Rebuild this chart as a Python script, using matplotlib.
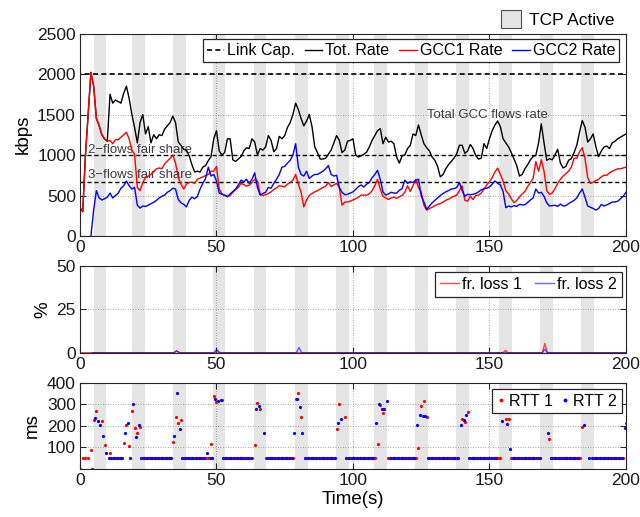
import numpy as np
import matplotlib
matplotlib.use('Agg')
import matplotlib.pyplot as plt
from matplotlib.patches import Patch

plt.rcParams['font.family'] = ['Liberation Sans', 'DejaVu Sans']
nan = np.nan

# ---------------- data ----------------
time_s = np.arange(0, 201)          # 1-s samples for rates / RTT 1
time_rtt2 = np.arange(0, 200) + 0.5  # RTT 2 sample times

tcp_start = [5.0, 19.0, 34.0, 48.6, 63.7, 78.8, 93.9, 107.7, 122.8, 137.9, 153.4, 168.6, 183.7]
tcp_end = [9.7, 23.7, 38.7, 53.2, 68.3, 83.4, 98.5, 112.4, 127.4, 142.4, 158.1, 173.3, 188.4]

link_t = [0, 0, 200]
link_cap = [0, 2000, 2000]
fair_2flows = 1000
fair_3flows = 667

gcc1_rate = [350, 300, 1000, 1500, 2020, 1850, 1450, 1365, 1250, 1200,
             1170, 1180, 1140, 1190, 1190, 1220, 1250, 1280, 1200, 1060,
             1010, 600, 560, 660, 720, 740, 760, 800, 830, 840,
             830, 890, 925, 960, 1000, 900, 720, 640, 580, 640,
             660, 665, 650, 700, 715, 730, 745, 760, 800, 800,
             860, 580, 520, 500, 485, 500, 540, 575, 600, 650,
             635, 615, 630, 660, 700, 680, 520, 500, 510, 525,
             545, 575, 595, 620, 615, 605, 640, 660, 690, 760,
             640, 540, 360, 445, 500, 525, 545, 560, 580, 600,
             615, 660, 610, 630, 650, 600, 380, 420, 420, 430,
             445, 460, 480, 505, 505, 505, 520, 560, 620, 700,
             580, 490, 470, 450, 470, 480, 465, 485, 500, 540,
             620, 550, 620, 700, 600, 540, 380, 320, 340, 355,
             375, 390, 400, 420, 440, 455, 475, 490, 505, 560,
             620, 440, 430, 490, 450, 500, 505, 530, 580, 630,
             670, 720, 790, 840, 760, 680, 560, 520, 460, 410,
             440, 480, 520, 550, 610, 660, 710, 920, 800, 940,
             800, 560, 515, 530, 585, 650, 700, 740, 770, 800,
             850, 960, 960, 1040, 1090, 960, 720, 650, 665, 685,
             700, 730, 750, 750, 780, 800, 815, 830, 830, 840,
             850]

gcc2_rate = [nan, nan, nan, nan, 0, 320, 560, 470, 445, 460,
             480, 530, 470, 500, 530, 590, 620, 680, 620, 580,
             600, 380, 345, 370, 365, 380, 400, 415, 440, 470,
             490, 505, 540, 560, 590, 580, 450, 410, 390, 360,
             440, 480, 460, 490, 580, 650, 710, 850, 740, 760,
             680, 530, 515, 505, 485, 520, 550, 580, 630, 690,
             670, 700, 650, 700, 780, 600, 505, 525, 540, 600,
             590, 650, 700, 760, 850, 860, 900, 935, 1000, 1140,
             850, 760, 740, 800, 710, 740, 760, 760, 780, 800,
             830, 870, 760, 740, 750, 600, 540, 510, 515, 530,
             545, 575, 610, 630, 605, 640, 660, 720, 760, 810,
             700, 545, 505, 520, 540, 530, 530, 565, 585, 690,
             650, 670, 660, 690, 700, 500, 420, 330, 370, 410,
             440, 470, 500, 525, 545, 560, 580, 585, 600, 660,
             560, 490, 515, 510, 515, 525, 545, 570, 585, 590,
             605, 640, 680, 650, 630, 550, 350, 370, 360, 375,
             365, 390, 385, 385, 415, 445, 470, 580, 530, 540,
             490, 410, 370, 375, 380, 365, 395, 370, 375, 400,
             420, 440, 470, 530, 580, 480, 370, 355, 340, 320,
             340, 390, 370, 385, 400, 420, 420, 430, 460, 490,
             540]

total_rate = [350, 300, 1000, 1500, 2020, 1850, 1450, 1365, 1250, 1200,
              1170, 1750, 1640, 1680, 1660, 1640, 1760, 1850, 1700, 1500,
              1340, 1150, 1400, 1500, 1260, 1350, 1150, 1250, 1200, 1250,
              1240, 1320, 1360, 1400, 1480, 1400, 1160, 1120, 1070, 1060,
              990, 880, 790, 800, 790, 850, 870, 930, 980, 1200,
              1300, 1050, 1000, 1030, 1200, 1200, 940, 920, 950, 980,
              1050, 1090, 1080, 1200, 1160, 1000, 1080, 1060, 1100, 1240,
              1180, 1040, 1080, 1230, 1200, 1240, 1340, 1400, 1500, 1640,
              1560, 1450, 1360, 1420, 1500, 1350, 1100, 1030, 950, 950,
              960, 1010, 1060, 1150, 1240, 1180, 1030, 1060, 1170, 1180,
              1200, 1000, 975, 990, 1010, 1035, 1100, 1180, 1240, 1300,
              1325, 1140, 1220, 1160, 1170, 1140, 975, 900, 990, 1000,
              1080, 1120, 1260, 1240, 1370, 1250, 1140, 1090, 1050, 975,
              935, 860, 730, 760, 830, 880, 920, 960, 1015, 1120,
              1120, 1020, 1050, 1130, 1080, 990, 950, 960, 1140, 1080,
              1200, 1300, 1370, 1420, 1350, 1200, 1150, 1100, 1030, 950,
              870, 740, 760, 830, 880, 940, 980, 995, 1150, 1385,
              1150, 935, 955, 940, 1000, 1070, 900, 840, 860, 935,
              955, 1030, 1120, 1280, 1425, 1345, 1160, 1200, 1260, 1100,
              980, 1050, 1100, 1110, 1080, 1150, 1170, 1200, 1220, 1240,
              1260]

loss1_t = [0, 34.4, 35.4, 36.4, 49.2, 50.2, 51.2, 155.0, 155.9, 156.8, 169.4, 170.3, 171.2, 200]
loss1 = [0, 0, 1.1, 0, 0, 0.6, 0, 0, 1.4, 0, 0, 5.3, 0, 0]
loss2_t = [4.5, 34.4, 35.4, 36.4, 49.1, 50.1, 51.1, 79.2, 80.2, 81.2, 169.4, 170.3, 171.2, 200]
loss2 = [0, 0, 0.9, 0, 0, 2.0, 0, 0, 3.0, 0, 0, 2.0, 0, 0]

rtt1 = [0, 52, 52, 52, 90, 229, 270, nan, 224, 110,
        nan, 72, 52, 52, 52, 52, 119, 204, 108, 270,
        190, 166, 194, 52, 52, 52, 52, 52, 52, 52,
        52, 52, 52, 52, 123, 242, 215, 227, 52, 52,
        52, 52, 52, 52, 52, 52, 52, 52, 117, 337,
        311, nan, 322, 52, 52, 52, 52, 52, 52, 52,
        52, 52, 52, 52, 111, 308, 279, nan, 52, 52,
        52, 52, 52, 52, 52, 52, 52, 52, 52, 326,
        351, 239, nan, 52, 52, 52, 52, 52, 52, 52,
        52, 52, 52, 52, 184, 303, nan, 242, 52, 52,
        52, 52, 52, 52, 52, 52, 52, 52, 52, 117,
        297, 258, nan, 52, 52, 52, 52, 52, 52, 52,
        52, 52, 52, 52, 96, 291, 314, 242, 52, 52,
        52, 52, 52, 52, 52, 52, 52, 52, 52, nan,
        232, 220, 262, 52, 52, 52, 52, 52, 52, 52,
        52, 52, 52, 52, 52, nan, 232, 230, 52, 52,
        52, 52, 52, 52, 52, 52, 52, 52, 52, nan,
        nan, nan, 139, 52, 52, 52, 52, 52, 52, 52,
        52, 52, 52, 52, 194, nan, nan, 262, 52, 52,
        52, 52, 52, 52, 52, 52, 52, 52, 52, 52,
        213]

rtt2 = [nan, nan, nan, nan, 0, 235, 224, 206, 151, 72,
        52, 52, 52, 52, 52, 52, 168, 212, 52, 300,
        146, 203, 52, 52, 52, 52, 52, 52, 52, 52,
        52, 52, 52, 52, 155, 351, 187, 52, 52, 52,
        52, 52, 52, 52, 52, 52, 72, 52, 52, 323,
        316, 320, 52, 52, 52, 52, 52, 52, 52, 52,
        52, 52, 52, nan, 276, 293, nan, 168, 52, 52,
        52, 52, 52, 52, 52, 52, 52, 52, 169, 326,
        287, 165, 52, 52, 52, 52, 52, 52, 52, 52,
        52, 52, 52, 52, 215, 232, nan, 52, 52, 52,
        52, 52, 52, 52, 52, 52, 52, 52, 212, 299,
        280, 279, 313, 52, 52, 52, 52, 52, 52, 52,
        52, 52, 52, 203, 250, 247, 245, 52, 52, 52,
        52, 52, 52, 52, 52, 52, 52, 52, 52, 203,
        227, 250, 52, 52, 52, 52, 52, 52, 52, 52,
        52, 52, 52, nan, 221, 267, 207, 91, 52, 52,
        52, 52, 52, 52, 52, 52, 52, 52, 52, 270,
        nan, 168, 52, 52, 52, 52, 52, 52, 52, 52,
        52, 52, 52, nan, 204, nan, 52, 52, 52, 52,
        52, 52, 52, 52, 52, 52, 52, 52, 52, 189]

# ---------------- figure ----------------
FS = 12.5
AX_COL = '#262626'
BAND = '#e5e5e5'

fig = plt.figure(figsize=(6.4, 5.17), dpi=100)
ax1 = fig.add_axes([0.125, 0.5435, 0.853, 0.3917])
ax2 = fig.add_axes([0.125, 0.3178, 0.853, 0.1677])
ax3 = fig.add_axes([0.125, 0.0929, 0.853, 0.1669])


def style(ax):
    for s, e in zip(tcp_start, tcp_end):
        ax.axvspan(s, e, color=BAND, lw=0, zorder=0)
    ax.set_xlim(0, 200)
    ax.set_xticks([0, 50, 100, 150, 200])
    ax.tick_params(direction='in', top=True, right=True, length=4, width=0.8,
                   color=AX_COL, labelcolor='#1a1a1a', labelsize=FS, pad=3)
    for sp in ax.spines.values():
        sp.set_color(AX_COL)
        sp.set_linewidth(0.8)
    ax.grid(True, linestyle=(0, (1, 2)), color='#8a8a8a', linewidth=0.6)
    ax.set_axisbelow(True)


def legend_style(leg):
    fr = leg.get_frame()
    fr.set_edgecolor(AX_COL)
    fr.set_linewidth(0.9)
    fr.set_facecolor('white')
    fr.set_alpha(1)


# ---- panel 1: rates ----
style(ax1)
dash = (0, (3, 2))
LW = 1.0
ax1.plot(link_t, link_cap, color='k', ls=dash, lw=1.2, label='Link Cap.')
ax1.axhline(fair_2flows, color='k', ls=dash, lw=1.0)
ax1.axhline(fair_3flows, color='k', ls=dash, lw=1.0)
ax1.plot(time_s, total_rate, color='k', lw=LW, label='Tot. Rate')
ax1.plot(time_s, gcc1_rate, color='#ff0000', lw=LW, label='GCC1 Rate')
ax1.plot(time_s, gcc2_rate, color='#0000ff', lw=LW, label='GCC2 Rate')
ax1.set_ylim(0, 2500)
ax1.set_yticks([0, 500, 1000, 1500, 2000, 2500])
ax1.set_ylabel('kbps', fontsize=13.5, labelpad=4)
txt_col = '#3c3c3c'
ax1.text(3, fair_2flows + 60, '2\u2212flows fair share', fontsize=9.5, color=txt_col, va='center', zorder=1.5)
ax1.text(3, fair_3flows + 90, '3\u2212flows fair share', fontsize=9.5, color=txt_col, va='center', zorder=1.5)
ax1.text(127, 1490, 'Total GCC flows rate', fontsize=9.5, color=txt_col, va='center', zorder=1.5)
leg1 = ax1.legend(loc='upper right', bbox_to_anchor=(0.988, 0.972), ncol=4, fontsize=11.5,
                  handlelength=1.1, handletextpad=0.2, columnspacing=0.6, borderaxespad=0,
                  borderpad=0.25, fancybox=False, framealpha=1)
legend_style(leg1)

fig.legend(handles=[Patch(facecolor=BAND, edgecolor='#505050', linewidth=0.8, label='TCP Active')],
           loc='upper right', bbox_to_anchor=(0.985, 1.01), frameon=False, fontsize=FS,
           handlelength=1.1, handleheight=1.2, handletextpad=0.5)

# ---- panel 2: frame loss ----
style(ax2)
ax2.plot(loss1_t, loss1, color='#ff0000', alpha=0.7, lw=1.0, label='fr. loss 1')
ax2.plot(loss2_t, loss2, color='#0000ff', alpha=0.6, lw=1.0, label='fr. loss 2')
ax2.set_ylim(0, 50)
ax2.set_yticks([0, 25, 50])
ax2.set_ylabel('%', fontsize=13.5, labelpad=4)
leg2 = ax2.legend(loc='upper right', bbox_to_anchor=(0.992, 0.93), ncol=2, fontsize=11.5,
                  handlelength=1.2, handletextpad=0.2, columnspacing=0.8, borderaxespad=0,
                  borderpad=0.3, fancybox=False, framealpha=1)
legend_style(leg2)

# ---- panel 3: RTT ----
style(ax3)
ax3.plot(time_s, rtt1, ls='none', marker='o', ms=2.3, mew=0, color='#ff0000', label='RTT 1')
ax3.plot(time_rtt2, rtt2, ls='none', marker='o', ms=2.3, mew=0, color='#0000ff', label='RTT 2')
ax3.set_ylim(0, 400)
ax3.set_yticks([100, 200, 300, 400])
ax3.set_ylabel('ms', fontsize=13.5, labelpad=4)
ax3.set_xlabel('Time(s)', fontsize=13.5, labelpad=2)
leg3 = ax3.legend(loc='upper right', bbox_to_anchor=(0.992, 0.93), ncol=2, fontsize=11.5,
                  handlelength=0.5, handletextpad=0.25, columnspacing=0.5, borderaxespad=0,
                  borderpad=0.3, fancybox=False, framealpha=1, markerscale=1.2)
legend_style(leg3)

fig.savefig('out.png', dpi=100)
